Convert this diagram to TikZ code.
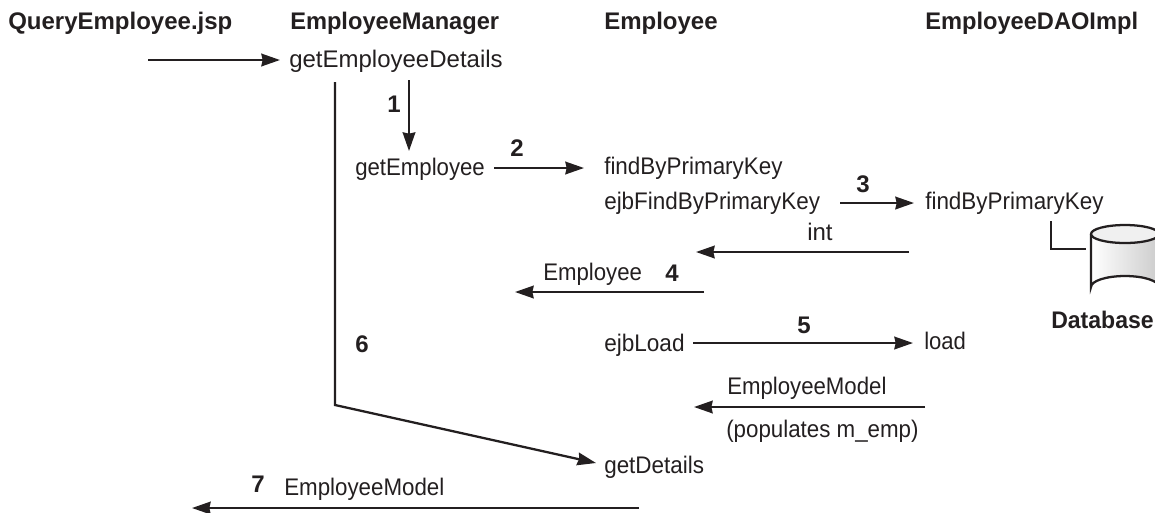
\documentclass[tikz,border=0pt]{standalone}
\usepackage{fontspec}
\setmainfont{Liberation Sans}
\usetikzlibrary{arrows.meta}
\definecolor{ink}{HTML}{231F20}
\newcommand{\nar}[2]{\scalebox{#1}[1]{#2}}
\tikzset{
 lbl/.style={inner sep=0pt,anchor=base west,text=ink,font=\fontsize{18}{20}\selectfont},
 hd/.style={lbl,font=\fontsize{18}{20}\selectfont\bfseries},
 conn/.style={draw=ink,line width=1.7pt,-{Stealth[length=14pt,width=9.5pt,inset=1pt]}},
 wire/.style={draw=ink,line width=1.7pt}
}
\begin{document}
\begin{tikzpicture}[x=0.75pt,y=-0.75pt]
\useasboundingbox (0,0) rectangle (1155,512);
\node[hd] (h1) at (8,29) {QueryEmployee.jsp};
\node[hd] (h2) at (290,29) {\nar{0.985}{EmployeeManager}};
\node[hd] (h3) at (604,29) {Employee};
\node[hd] (h4) at (925,29) {\nar{0.985}{EmployeeDAOImpl}};
\node[lbl] (gd) at (289,67) {getEmployeeDetails};
\node[lbl] (ge) at (355,175) {\nar{0.925}{getEmployee}};
\node[lbl] (fp) at (604,174) {\nar{0.935}{findByPrimaryKey}};
\node[lbl] (ef) at (604,209) {\nar{0.935}{ejbFindByPrimaryKey}};
\node[lbl] (fd) at (925,209) {\nar{0.935}{findByPrimaryKey}};
\node[lbl] (int) at (807,240) {int};
\node[lbl] (emp) at (543,280) {\nar{0.925}{Employee}};
\node[lbl] (el) at (604,351) {\nar{0.94}{ejbLoad}};
\node[lbl] (lo) at (924,349) {\nar{0.92}{load}};
\node[lbl] (em) at (727,394) {\nar{0.925}{EmployeeModel}};
\node[lbl] (pop) at (726,437) {\nar{0.93}{(populates m\_emp)}};
\node[lbl] (gt) at (604,473) {\nar{0.935}{getDetails}};
\node[lbl] (em2) at (284,495) {\nar{0.93}{EmployeeModel}};
\node[hd] (n1) at (387,112) {1};
\node[hd] (n2) at (510,156) {2};
\node[hd] (n3) at (856,192) {3};
\node[hd] (n4) at (665,281) {4};
\node[hd] (n5) at (797,333) {5};
\node[hd] (n6) at (355,352) {6};
\node[hd] (n7) at (251,492) {7};
\node[hd] (db) at (1051,328) {\nar{0.96}{Database}};
\coordinate (a1) at (148,60);
\coordinate (b1) at (280,60);
\draw[conn] (a1) -- (b1);
\draw[conn] (409,80) coordinate (a2) -- (409,151) coordinate (b2);
\draw[conn] (494,168) coordinate (a3) -- (584,168) coordinate (b3);
\draw[conn] (840,203) coordinate (a4) -- (914,203) coordinate (b4);
\draw[conn] (909,252) coordinate (a5) -- (696,252) coordinate (b5);
\draw[conn] (704,292) coordinate (a6) -- (515,292) coordinate (b6);
\draw[conn] (693,343) coordinate (a7) -- (913,343) coordinate (b7);
\draw[conn] (925,407) coordinate (a8) -- (694,407) coordinate (b8);
\draw[conn] (335,82) coordinate (a9) -- (335,405) -- (596,463) coordinate (b9);
\draw[conn] (639,508) coordinate (a10) -- (192,508) coordinate (b10);
\draw[wire] (1051,221) coordinate (w1) -- (1051,249) -- (1086,249) coordinate (w2);
\path[left color=white,right color=gray!40] (1091,234) -- (1091,287) arc[start angle=180,end angle=360,x radius=34,y radius=11] -- (1159,234) -- cycle;
\draw[ink,line width=1.7pt] (1091,234) -- (1091,287) arc[start angle=180,end angle=360,x radius=34,y radius=11] -- (1159,234);
\draw[ink,line width=1.7pt,fill=gray!12] (1125,234) ellipse[x radius=34,y radius=9];
\end{tikzpicture}
\end{document}
